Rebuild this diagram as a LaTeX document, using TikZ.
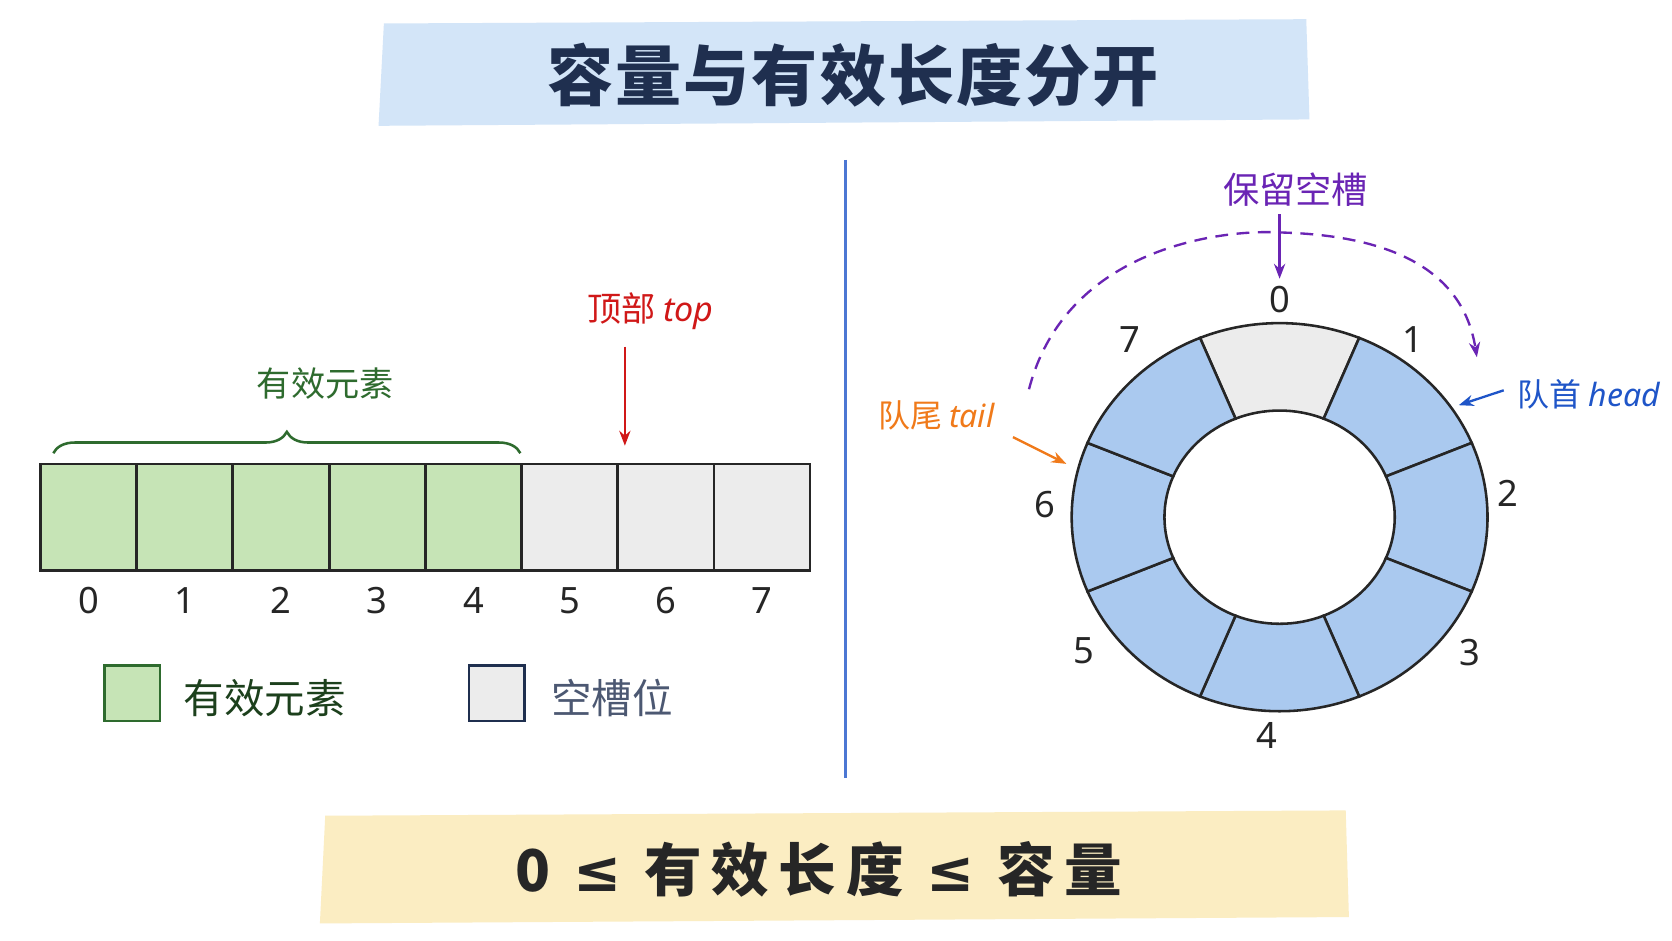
\documentclass[tikz,border=0pt]{standalone}
\usepackage{fontspec}
\newfontfamily\cjk{Noto Sans CJK SC}
\newfontfamily\lat{Noto Sans}
\newfontfamily\sym{DejaVu Sans}
\usetikzlibrary{decorations.pathreplacing,arrows.meta}
\definecolor{navy}{HTML}{1F2F4F}
\definecolor{gfill}{HTML}{C6E4B6}
\definecolor{gline}{HTML}{2E6B2E}
\definecolor{grfill}{HTML}{ECECEC}
\definecolor{bfill}{HTML}{AAC9EF}
\definecolor{redc}{HTML}{D01818}
\definecolor{purp}{HTML}{6A24B4}
\definecolor{orng}{HTML}{F07A1A}
\definecolor{bluc}{HTML}{1F55C8}
\definecolor{tban}{HTML}{D3E5F8}
\definecolor{bban}{HTML}{FBEDC2}
\tikzset{
 cell/.style={draw=black!85,line width=1.2pt,minimum width=45pt,minimum height=50pt,inner sep=0},
 idx/.style={font=\lat\fontsize{17}{17}\selectfont,text=black!85},
 seg/.style={draw=black!85,line width=1.2pt},
 arr/.style={-{Stealth[length=7pt]},line width=1.1pt},
}
\begin{document}
\begin{tikzpicture}[x=0.5pt,y=-0.5pt]
\useasboundingbox (0,0) rectangle (1568,882);
\fill[white] (0,0) rectangle (1568,882);
% title
\fill[tban] (360,22) -- (1225,18) -- (1228,112) -- (355,118) -- cycle;
\node[font=\cjk\bfseries\fontsize{31}{31}\selectfont,text=navy] (title) at (800,70) {容\kern1pt 量\kern1pt 与\kern1pt 有\kern1pt 效\kern1pt 长\kern1pt 度\kern1pt 分\kern1pt 开};
% divider
\draw[bluc!80,line width=1.2pt] (793,150) -- (793,730);
% array
\foreach \i in {0,...,7}{
  \pgfmathsetmacro\cx{83+90.25*\i}
  \ifnum\i<5 \def\fc{gfill}\else\def\fc{grfill}\fi
  \node[cell,fill=\fc] (c\i) at (\cx,485) {};
  \node[idx] (n\i) at (\cx,563) {\i};
}
\draw[gline,line width=1.2pt,decorate,decoration={brace,amplitude=10pt}] (50,425) -- (488,425);
\node[font=\cjk\fontsize{16}{16}\selectfont,text=gline] (valid) at (305,360) {有效元素};
\node[font=\cjk\fontsize{16}{16}\selectfont,text=redc] (top) at (610,292) {顶部 {\lat\itshape top}};
\coordinate (topa) at (586,325);
\coordinate (topb) at (586,418);
\draw[arr,redc] (topa) -- (topb);
% legend
\node[draw=gline,line width=1.2pt,fill=gfill,minimum size=26pt,inner sep=0] (lg) at (124,650) {};
\node[font=\cjk\fontsize{19}{19}\selectfont,text=gline!60!black,anchor=west] (lgt) at (165,655) {有效元素};
\node[draw=navy,line width=1.2pt,fill=grfill,minimum size=26pt,inner sep=0] (lr) at (466,650) {};
\node[font=\cjk\fontsize{19}{19}\selectfont,text=navy!80,anchor=west] (lrt) at (510,655) {空槽位};
% ring
\begin{scope}[shift={(1200,485)}]
\foreach \i in {0,...,7}{
  \pgfmathsetmacro\aa{-90+45*\i-22.5}
  \pgfmathsetmacro\ab{-90+45*\i+22.5}
  \ifnum\i=0 \def\fc{grfill}\else\def\fc{bfill}\fi
  \draw[seg,fill=\fc] ({195*cos(\aa)},{182*sin(\aa)}) arc[start angle=\aa,end angle=\ab,x radius=195,y radius=182] -- ({108*cos(\ab)},{100*sin(\ab)}) arc[start angle=\ab,end angle=\aa,x radius=108,y radius=100] -- cycle;
}
\coordinate (rc) at (0,0);
\end{scope}
\node[idx] (r0) at (1200,281) {0};
\node[idx] (r1) at (1325,318) {1};
\node[idx] (r2) at (1414,463) {2};
\node[idx] (r3) at (1378,612) {3};
\node[idx] (r4) at (1188,690) {4};
\node[idx] (r5) at (1016,610) {5};
\node[idx] (r6) at (980,473) {6};
\node[idx] (r7) at (1060,318) {7};
\node[font=\cjk\fontsize{17}{17}\selectfont,text=purp] (res) at (1215,178) {保留空槽};
\draw[arr,purp] (res.south -| r0) -- (r0.north);
\draw[purp,line width=1.1pt,dash pattern=on 6pt off 4pt,-{Stealth[length=7pt]}] (965,365) .. controls (1000,230) and (1150,215) .. (1200,218) .. controls (1280,220) and (1370,240) .. (1385,335);
\node[font=\cjk\fontsize{15}{15}\selectfont,text=orng] (tail) at (878,390) {队尾 {\lat\itshape tail}};
\coordinate (tailp) at (1000,435);
\draw[arr,orng] (950,410) -- (tailp);
\node[font=\cjk\fontsize{15}{15}\selectfont,text=bluc] (head) at (1490,370) {队首 {\lat\itshape head}};
\coordinate (headp) at (1368,380);
\draw[arr,bluc] (head.west) ++(-6,-4) -- (headp);
% bottom
\fill[bban] (305,765) -- (1262,760) -- (1265,860) -- (300,866) -- cycle;
\node[font=\cjk\bfseries\fontsize{27}{27}\selectfont,text=black!85] (form) at (768,815) {0\, {\sym ≤}\, 有\,效\,长\,度\, {\sym ≤}\, 容\,量};
\end{tikzpicture}
\end{document}
